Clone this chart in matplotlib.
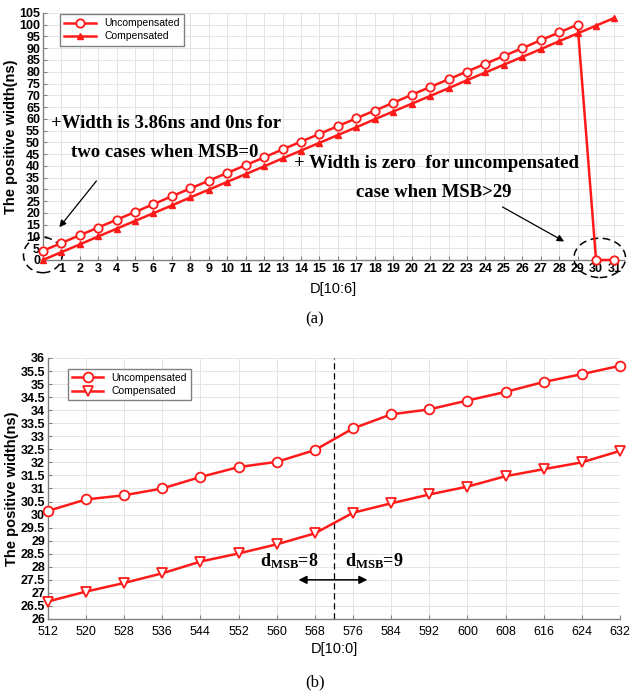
import matplotlib
matplotlib.use("Agg")
import matplotlib.pyplot as plt
from matplotlib.patches import Ellipse

plt.rcParams['font.family'] = ['Liberation Sans', 'DejaVu Sans']
plt.rcParams['mathtext.fontset'] = 'custom'
plt.rcParams['mathtext.bf'] = 'Liberation Serif:bold'
plt.rcParams['mathtext.rm'] = 'Liberation Serif'

# dados do grafico (a)
d_msb = list(range(32))
uncomp_a = [3.86, 7.2, 10.5, 13.8, 17.1, 20.4, 23.7, 27.1, 30.4, 33.7, 37.0, 40.3,
            43.6, 47.0, 50.3, 53.6, 56.9, 60.2, 63.5, 66.8, 70.2, 73.5, 76.8, 80.1,
            83.4, 86.7, 90.0, 93.4, 96.7, 100.0, 0.0, 0.0]
comp_a = [0.0, 3.3, 6.6, 10.0, 13.3, 16.6, 19.9, 23.2, 26.6, 29.9, 33.2, 36.5,
          39.8, 43.2, 46.5, 49.8, 53.1, 56.4, 59.8, 63.1, 66.4, 69.7, 73.0, 76.4,
          79.7, 83.0, 86.3, 89.6, 93.0, 96.3, 99.6, 102.9]

# dados do grafico (b)
d_full = [512, 520, 528, 536, 544, 552, 560, 568, 576, 584, 592, 600, 608, 616, 624, 632]
uncomp_b = [30.14, 30.58, 30.74, 31.0, 31.44, 31.82, 32.02, 32.47,
            33.3, 33.84, 34.03, 34.37, 34.7, 35.08, 35.38, 35.7]
comp_b = [26.67, 27.05, 27.38, 27.75, 28.2, 28.51, 28.86, 29.28,
          30.07, 30.43, 30.77, 31.07, 31.47, 31.74, 32.0, 32.44]

red = '#ff1a1a'
fig = plt.figure(figsize=(6.3, 6.92), dpi=100)

def estilo(ax):
    for s in ['top', 'right']:
        ax.spines[s].set_visible(False)
    for s in ['left', 'bottom']:
        ax.spines[s].set_color('#808080')
        ax.spines[s].set_linewidth(1.0)
    ax.grid(True, color='#e4e4e4', linewidth=0.7)
    ax.set_axisbelow(True)
    ax.tick_params(direction='in', length=3, color='#808080', pad=2)

# (a)
ax1 = fig.add_axes([0.068, 0.6243, 0.922, 0.357])
estilo(ax1)
ax1.plot(d_msb, uncomp_a, color=red, lw=1.8, marker='o', ms=6, mfc='white',
         mec=red, mew=1.3, label='Uncompensated', clip_on=False, zorder=3)
ax1.plot(d_msb, comp_a, color=red, lw=1.8, marker='^', ms=5, mfc=red,
         mec=red, label='Compensated', clip_on=False, zorder=3)
ax1.set_xlim(0, 31.5)
ax1.set_ylim(0, 105)
ax1.set_xticks(range(1, 32))
ax1.set_yticks(range(0, 106, 5))
for lb in ax1.get_xticklabels() + ax1.get_yticklabels():
    lb.set_fontsize(9)
    lb.set_fontweight('bold')
ax1.set_xlabel('D[10:6]', fontsize=10.5, labelpad=5)
ax1.set_ylabel('The positive width(ns)', fontsize=10.5, fontweight='bold', labelpad=1)
ax1.legend(loc='upper left', bbox_to_anchor=(0.03, 0.995), borderaxespad=0,
           fontsize=7.5, edgecolor='#808080', fancybox=False, framealpha=1,
           handlelength=3, borderpad=0.4, labelspacing=0.3)

ax1.text(0.45, 58, '+Width is 3.86ns and 0ns for', fontsize=13.5, fontweight='bold',
         family='Liberation Serif', va='center')
ax1.text(6.6, 45.5, 'two cases when MSB=0', fontsize=13.5, fontweight='bold',
         family='Liberation Serif', va='center', ha='center')
ax1.annotate('', xy=(0.8, 13.0), xytext=(3.0, 34.5),
             arrowprops=dict(arrowstyle='-|>', color='black', lw=0.9, mutation_scale=10))
ax1.text(13.6, 41, '+ Width is zero  for uncompensated', fontsize=13.5, fontweight='bold',
         family='Liberation Serif', va='center')
ax1.text(21.2, 28.6, 'case when MSB>29', fontsize=13.5, fontweight='bold',
         family='Liberation Serif', va='center', ha='center')
ax1.annotate('', xy=(28.4, 7.3), xytext=(24.8, 23.1),
             arrowprops=dict(arrowstyle='-|>', color='black', lw=0.9, mutation_scale=10))
ax1.add_patch(Ellipse((0.0, 2.1), 2.1, 15, fill=False, ls=(0, (5, 3)), lw=1.1,
                      color='black', clip_on=False))
ax1.add_patch(Ellipse((30.2, 0.9), 2.8, 16.7, fill=False, ls=(0, (5, 3)), lw=1.1,
                      color='black', clip_on=False))
fig.text(0.5, 1 - 319 / 692, '(a)', ha='center', va='center', fontsize=12,
         family='Liberation Serif')

# (b)
ax2 = fig.add_axes([0.076, 0.1055, 0.908, 0.3772])
estilo(ax2)
ax2.plot(d_full, uncomp_b, color=red, lw=1.8, marker='o', ms=7, mfc='white',
         mec=red, mew=1.3, label='Uncompensated', clip_on=False, zorder=3)
ax2.plot(d_full, comp_b, color=red, lw=1.8, marker='v', ms=7, mfc='white',
         mec=red, mew=1.3, label='Compensated', clip_on=False, zorder=3)
ax2.set_xlim(512, 632)
ax2.set_ylim(26, 36)
ax2.set_xticks(d_full)
yt = [26 + 0.5 * i for i in range(21)]
ax2.set_yticks(yt)
ax2.set_yticklabels(['%g' % v for v in yt])
ax2.tick_params(axis='x', pad=5)
for lb in ax2.get_xticklabels() + ax2.get_yticklabels():
    lb.set_fontsize(9)
for lb in ax2.get_yticklabels():
    lb.set_fontweight('bold')
ax2.set_xlabel('D[10:0]', fontsize=10.5, labelpad=3)
ax2.set_ylabel('The positive width(ns)', fontsize=10.5, fontweight='bold', labelpad=1)
ax2.legend(loc='upper left', bbox_to_anchor=(0.035, 0.958), borderaxespad=0,
           fontsize=7.5, edgecolor='#808080', fancybox=False, framealpha=1,
           handlelength=3, borderpad=0.4, labelspacing=0.3)
ax2.axvline(572, color='black', ls=(0, (5, 3)), lw=0.9)
ax2.annotate('', xy=(564.0, 27.5), xytext=(579.6, 27.5),
             arrowprops=dict(arrowstyle='<|-|>', color='black', lw=1.1, mutation_scale=12))
ax2.text(562.6, 28.2, r'$\mathbf{d_{MSB}}$=8', fontsize=13, fontweight='bold',
         family='Liberation Serif', va='center', ha='center')
ax2.text(580.4, 28.2, r'$\mathbf{d_{MSB}}$=9', fontsize=13, fontweight='bold',
         family='Liberation Serif', va='center', ha='center')
fig.text(0.5, 1 - 682 / 692, '(b)', ha='center', va='center', fontsize=12,
         family='Liberation Serif')

fig.savefig('out.png', dpi=100)
